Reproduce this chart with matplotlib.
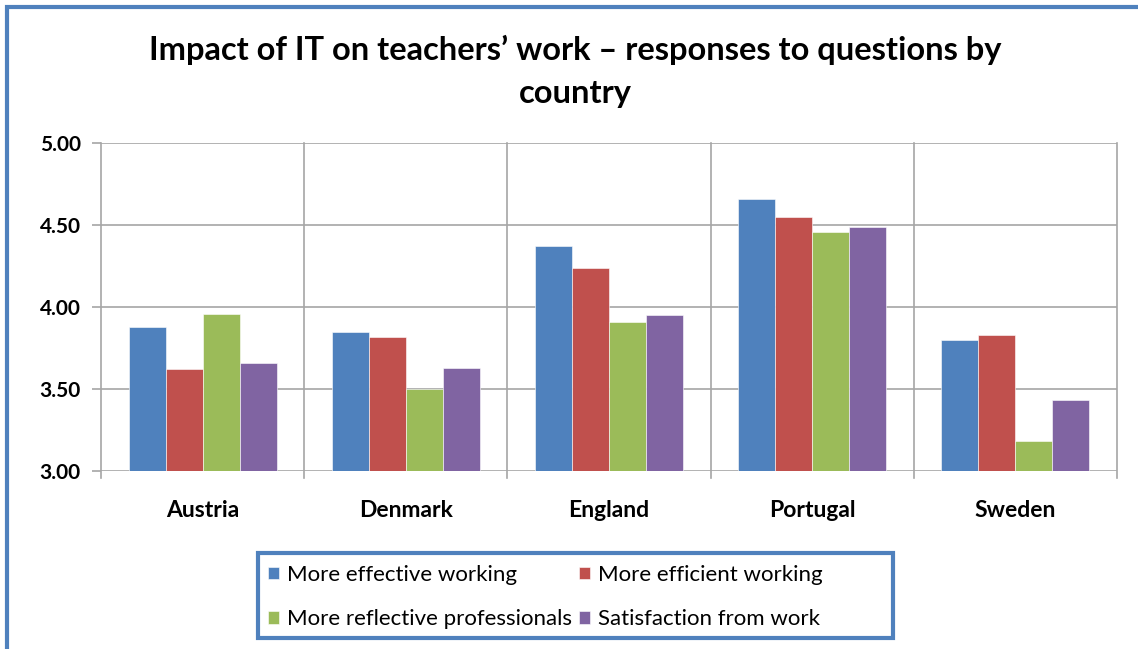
import numpy as np
import matplotlib.pyplot as plt
from matplotlib.patches import Rectangle

countries = ["Austria", "Denmark", "England", "Portugal", "Sweden"]
series_names = ["More effective working", "More efficient working",
                "More reflective professionals", "Satisfaction from work"]
effective = [3.88, 3.85, 4.37, 4.66, 3.80]
efficient = [3.62, 3.82, 4.24, 4.55, 3.83]
reflective = [3.96, 3.50, 3.91, 4.46, 3.18]
satisfaction = [3.66, 3.63, 3.95, 4.49, 3.43]
colors = ["#4F81BD", "#C0504D", "#9BBB59", "#8064A2"]
y_ticks = [3.00, 3.50, 4.00, 4.50, 5.00]

plt.rcParams['font.family'] = ['Lato', 'DejaVu Sans']

W, H = 1138, 649
fig = plt.figure(figsize=(W / 100, H / 100), dpi=100)
ax = fig.add_axes([101 / W, 1 - 471 / H, 1016 / W, 328 / H])

x = np.arange(len(countries))
width = 0.182
bars = []
for i, (vals, name) in enumerate(zip([effective, efficient, reflective, satisfaction], series_names)):
    b = ax.bar(x + (i - 1.5) * width, np.array(vals) - 3.0, width, bottom=3.0,
               color=colors[i], label=name, edgecolor="white", linewidth=0.4, zorder=3)
    bars.append(b)

ax.set_xlim(-0.5, len(countries) - 0.5)
ax.set_ylim(3.0, 5.0)
ax.set_yticks(y_ticks)
ax.set_yticklabels([f"{v:.2f}" for v in y_ticks], fontsize=15, fontweight="bold")
ax.set_xticks(x)
ax.set_xticklabels(countries, fontsize=16.5, fontweight="bold")
ax.tick_params(axis="x", length=0, pad=21)
ax.tick_params(axis="y", length=6.5, color="#a6a6a6", width=1.2, pad=8)

# gridlines: horizontal at y ticks, vertical at category boundaries
for yv in y_ticks:
    ax.axhline(yv, color="#a6a6a6", lw=1.2, zorder=1)
for b in np.arange(-0.5, len(countries), 1.0):
    ax.plot([b, b], [2.96, 5.0], color="#a6a6a6", lw=1.2, clip_on=False, zorder=1)
for s in ax.spines.values():
    s.set_visible(False)

fig.text(0.5055, 1 - 50 / H, "Impact of IT on teachers’ work – responses to questions by",
         ha="center", va="center", fontsize=23.5, fontweight="bold")
fig.text(0.5055, 1 - 93 / H, "country",
         ha="center", va="center", fontsize=23.5, fontweight="bold")

# outer chart border (top and left visible)
fig.add_artist(Rectangle((7 / W, -0.1), 1.2, 1 - 7 / H + 0.1, transform=fig.transFigure,
                         fill=False, edgecolor="#4F81BD", lw=3))

# legend box, drawn separately so it can be wider than its entries
fig.add_artist(Rectangle((258 / W, 1 - 638 / H), 635 / W, 85 / H, transform=fig.transFigure,
                         fill=False, edgecolor="#4F81BD", lw=3))

# legend filled row by row
order = [0, 2, 1, 3]
leg = fig.legend([bars[i] for i in order], [series_names[i] for i in order],
                 loc="center left", bbox_to_anchor=(268 / W, 1 - 597 / H), ncol=2,
                 fontsize=16, frameon=False, handlelength=0.5,
                 handleheight=0.5, handletextpad=0.36, columnspacing=0.3,
                 labelspacing=1.1, borderpad=0, borderaxespad=0)

fig.savefig("out.png", dpi=100)
